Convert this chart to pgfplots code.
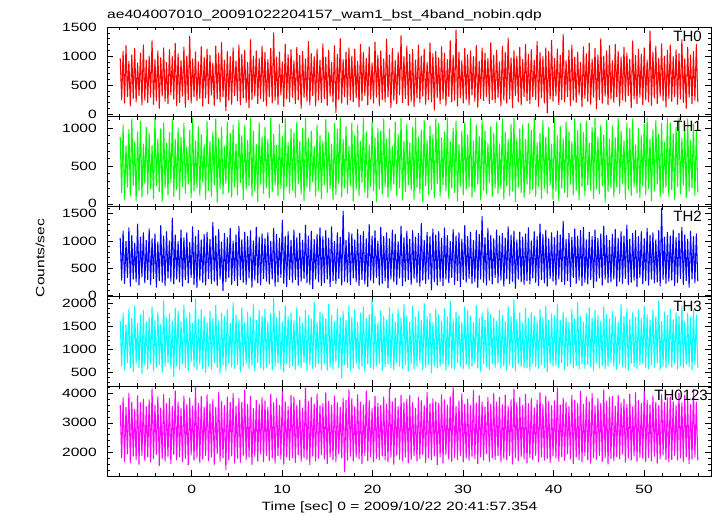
\documentclass[border=0pt]{standalone}
\usepackage{fontspec}
\setmainfont{Liberation Sans}[FakeStretch=1.3]
\newfontfamily\labfont{Liberation Sans}
\usepackage{pgfplots}
\usepackage{pgfplotstable}
\pgfplotsset{compat=1.18}
\definecolor{cR}{rgb}{1,0,0}
\definecolor{cG}{rgb}{0,1,0}
\definecolor{cB}{rgb}{0,0,1}
\definecolor{cC}{rgb}{0,1,1}
\definecolor{cM}{rgb}{1,0,1}
\newcommand\tf{\fontsize{12bp}{14bp}\selectfont}
\newcommand\lf{\labfont\fontsize{15bp}{17bp}\selectfont}
\pgfplotstableread{
a b c d e
960 880 1050 1620 3600
250 150 280 650 1820
1080 1040 1180 1790 3850
190 60 220 560 1700
1180 760 990 1540 3520
300 220 330 720 1950
910 980 1240 1880 4000
140 110 170 600 1650
1020 1120 1100 1680 3700
270 250 300 530 1880
1130 820 960 1950 3450
210 40 250 690 1760
880 950 1310 1580 3920
320 180 190 610 1600
1050 1090 1070 1760 3680
160 90 340 470 1900
1190 790 1150 1850 3800
240 270 230 660 1720
930 1010 1010 1600 3550
200 130 290 580 1850
1000 930 1220 1710 3780
290 200 200 700 1680
1260 770 1040 1930 4150
170 70 310 540 1800
940 1130 1130 1630 3600
230 240 150 620 1930
1090 860 980 1820 3880
100 160 270 680 1560
970 990 1280 1550 3500
310 30 240 500 1790
1140 1070 1090 2060 3960
220 210 180 640 1710
890 800 1170 1690 3650
180 120 320 720 1870
1110 940 1000 1780 3820
330 280 260 590 1620
990 1110 1420 1620 3560
260 100 210 420 1940
1220 850 1110 1900 4080
150 190 300 650 1750
1040 1000 990 1840 3700
200 50 250 570 1860
920 880 1200 1600 3480
310 230 170 690 1690
1150 1060 1060 1970 3910
120 140 290 610 1800
1000 750 1150 1700 3620
250 260 230 540 1580
1340 970 970 1800 3840
190 80 330 730 1920
950 1130 1260 1580 3570
300 170 200 620 1740
1070 830 1080 2100 4200
230 210 140 560 1830
900 1020 1190 1660 3660
270 110 280 680 1650
1160 910 1020 1870 3890
140 290 240 590 1780
980 780 1120 1720 3530
280 60 190 500 1900
1120 1090 1160 1590 3950
180 180 310 640 1720
1010 820 1030 1830 3640
330 100 220 580 1850
880 950 1340 1690 3790
150 250 260 720 1600
1170 1120 1090 1960 3510
260 20 180 610 1960
1050 870 1210 1620 4020
210 200 300 480 1700
1230 1010 980 1790 3720
300 130 90 670 1820
930 760 1140 1730 3580
60 270 250 550 1430
1080 1080 1060 1880 3870
240 150 330 700 1750
990 930 1230 1570 3690
170 90 200 620 1880
1140 1040 1000 2020 3990
320 220 270 590 1640
910 790 1110 1750 3560
230 120 180 680 1800
1190 1100 1270 1650 3830
160 280 290 520 1670
1030 900 1020 1910 3700
280 60 240 640 1910
1100 1030 1160 1590 4100
200 190 200 700 1760
890 840 1080 1820 3620
110 240 320 590 1840
1280 1130 1190 1700 3900
250 100 150 650 1590
1000 960 1000 1990 3480
310 170 280 530 1870
1090 780 1250 1640 3760
180 30 230 720 1720
960 1070 1070 1860 3630
270 260 190 600 1950
1170 880 1130 1730 3850
220 140 310 560 1690
1060 1010 1040 1880 3740
140 210 260 620 1900
940 850 1150 1610 3520
300 80 210 690 1730
1130 1130 990 1780 3960
190 160 300 560 1810
1400 920 1230 2120 3680
240 250 170 640 1640
980 770 1120 1690 3820
170 110 250 710 1890
1070 1050 1050 1840 3590
330 200 330 580 1770
900 890 1380 1600 4050
130 50 220 520 1610
1200 1120 1080 1950 3710
260 230 160 690 1850
1020 810 1170 1720 3550
210 140 290 610 1740
1110 990 1010 1800 3930
290 180 240 650 1820
920 940 1200 1630 3880
180 90 290 570 1660
1150 1080 1060 1920 3610
250 270 190 660 1920
1010 820 1140 1710 3770
100 130 260 600 1700
1080 1000 1010 1580 3490
290 40 310 720 1830
950 1130 1290 1850 4180
220 220 230 540 1760
1250 870 1090 1740 3720
160 160 200 680 1590
1040 960 1180 1660 3860
320 290 120 590 1880
990 760 1030 2040 3640
140 100 300 630 1710
1120 1040 1120 1590 3980
240 180 250 700 1800
930 900 1240 1810 3570
200 70 180 560 1930
1210 830 1080 1780 3650
270 250 230 690 1780
980 1110 1190 1670 4010
150 150 300 550 1620
1100 940 1050 1990 3730
310 200 160 620 1860
890 790 1260 1740 3590
210 60 270 580 1750
1180 1060 990 1610 3910
30 120 220 730 1690
1030 980 1150 1890 3680
250 270 310 600 1950
1300 1130 1070 1700 3520
190 90 190 380 1810
940 850 1550 1830 3840
300 210 260 670 1350
1070 1020 1010 1640 3760
170 140 240 610 1740
1140 760 1160 1960 4120
240 240 200 540 1870
1000 1070 1130 1700 3820
210 40 320 600 1710
1120 900 1020 1860 3540
280 190 250 700 1840
910 1040 1210 1600 3950
120 110 180 570 1780
1200 820 1100 1800 3700
230 280 290 640 1620
1060 1130 1170 1930 3600
320 150 210 520 1900
960 950 1040 1680 4070
160 80 160 690 1730
1160 780 1300 1760 3750
260 230 280 610 1860
880 1090 1090 2080 3480
190 170 230 580 1690
1240 870 1190 1720 3890
290 30 330 650 1800
1010 1000 1000 1590 3660
150 200 190 700 1760
1090 960 1250 1840 3590
250 130 220 550 1880
950 1120 1080 1720 3870
210 230 270 630 1750
1290 850 1150 1650 3640
300 90 140 690 1690
1020 990 1040 1910 4160
110 180 300 600 1830
1130 760 1200 1780 3710
240 260 250 560 1600
920 1080 1120 1600 3830
180 110 200 720 1910
1070 920 990 1870 3560
330 210 320 640 1770
1350 1130 1270 1690 3940
200 50 180 590 1720
990 830 1060 1990 3690
270 160 260 670 1850
1170 1050 1180 1740 3800
150 250 290 530 1650
1030 800 1030 1610 3920
220 180 200 690 1760
1110 1010 1190 1950 3690
130 60 310 580 1890
930 1130 1070 1700 3500
280 220 240 640 1710
1190 880 1140 1830 3860
200 140 170 710 1800
1000 970 1320 1640 3750
310 30 280 570 1940
1120 1100 1010 2010 3580
170 240 220 620 1660
890 840 1160 1720 4030
250 120 300 680 1820
1220 1030 1080 1790 3640
210 190 100 500 1750
1040 910 1220 1590 3810
70 80 250 650 1880
1080 1120 1110 1880 3710
290 270 190 600 1590
970 1060 1170 1760 3660
180 100 260 630 1850
1160 870 1050 1620 3950
260 250 180 700 1640
1050 950 1240 1890 3780
150 170 300 550 1920
940 1130 1100 1710 3600
300 70 230 660 1770
1260 820 990 2050 3880
210 210 330 610 1700
1010 1000 1210 1660 4240
240 150 200 580 1830
1450 1090 1090 1820 3550
140 40 270 720 1760
1070 780 1150 1740 3740
280 230 160 640 1900
920 960 1030 1600 3980
190 120 290 590 1680
1130 1070 1280 1930 3620
250 190 240 670 1810
1020 910 1080 1860 3800
160 220 310 580 1730
1090 1130 1160 1730 3580
330 90 220 640 1870
990 830 1010 1590 4090
220 160 250 710 1790
1180 1040 1190 1960 3670
120 260 150 600 1620
910 890 1120 1680 3920
270 50 300 530 1850
1140 1110 1450 1800 3710
230 180 240 690 1740
1050 960 1060 1640 3530
300 130 190 620 1960
960 800 1230 1900 3860
180 280 280 570 1700
1230 1020 1100 1770 3640
250 100 210 700 1820
1010 930 1040 1690 3990
200 210 330 610 1760
1100 1080 1200 1620 3700
290 140 230 720 1900
900 790 1090 1850 3860
140 200 280 590 1680
1170 1120 1140 1750 3610
240 60 170 640 1800
1060 940 1050 1610 3940
190 240 310 560 1750
1310 850 1260 1940 3570
260 110 220 680 1890
970 1050 1110 1720 3780
110 170 260 610 1610
1090 1130 1180 2090 4140
320 30 130 540 1830
1000 870 1020 1660 3690
210 220 300 700 1720
1150 990 1160 1800 3850
160 150 250 630 1870
940 1040 1070 1580 3590
300 80 200 600 1780
1200 850 1130 1900 3960
230 260 270 610 1640
1030 1060 1240 1680 3650
180 130 210 550 1820
1110 970 1000 1810 3820
300 190 320 700 1760
930 1130 1170 1730 3510
250 100 240 630 1910
1250 810 1080 1620 3770
130 230 180 590 1690
1060 930 1310 1870 4010
280 70 290 670 1850
990 1100 1120 1700 3630
190 200 230 610 1740
1140 880 1200 1950 3900
20 140 170 520 1800
1080 1010 1040 1640 3720
260 250 310 690 1660
1270 790 1150 1780 3580
220 60 260 640 1880
960 1130 1060 1740 3740
310 170 190 660 1810
1120 900 1180 1990 4180
160 40 300 600 1700
1010 1020 1110 1630 3600
250 210 250 720 1860
1370 860 1360 1820 3840
210 150 200 570 1730
920 1080 1030 1700 3690
300 90 270 640 1950
1100 950 1140 1590 3550
150 260 160 690 1780
1190 820 1070 1880 3930
240 120 330 600 1620
980 1120 1220 1670 3760
200 180 220 650 1840
1070 970 1090 2030 3650
330 50 280 580 1750
890 1060 1190 1720 4060
130 230 180 700 1690
1160 940 1250 1600 3620
270 110 240 590 1890
1040 1090 1020 1790 3880
220 250 210 680 1750
1220 800 1160 1910 3710
170 180 290 620 1640
950 1010 1080 1690 3990
290 70 140 540 1820
1130 1130 1200 1850 3570
90 200 260 710 1760
1020 880 1050 1740 3820
250 130 320 600 1900
1300 1040 1130 1620 3660
190 240 190 660 1700
1000 910 1270 1930 4110
310 20 300 580 1830
1090 1110 1100 1760 3730
160 160 230 640 1610
1180 850 1010 1660 3860
260 210 250 720 1790
920 1030 1120 1830 3890
200 90 300 640 1720
1200 870 1210 1710 3560
300 220 170 570 1860
1080 1130 1050 1600 3940
140 140 260 690 1780
980 960 1170 1980 3680
240 270 220 620 1950
1150 830 1090 1720 3800
220 60 310 600 1670
1050 1070 1290 1890 3630
320 190 200 550 1810
940 990 1030 1650 3970
110 110 240 700 1740
1260 1120 1140 1800 3540
260 230 280 630 1880
1010 780 1190 1700 4020
180 150 160 590 1700
1120 1000 1080 1870 3750
290 80 330 660 1840
1030 900 1170 1690 3650
160 240 210 700 1800
1140 1050 1040 1940 4050
250 120 270 610 1690
930 1130 1230 1760 3770
210 200 190 580 1830
1430 850 1100 1640 3600
150 40 300 670 1720
1070 980 1150 1860 3910
280 170 230 620 1870
1170 1100 1020 1710 3700
180 260 250 720 1640
960 920 1190 2060 3580
310 90 170 560 1790
1210 1060 1600 1610 3960
230 140 290 640 1910
1000 810 1070 1820 3690
120 220 220 600 1760
1100 1130 1160 1740 3840
270 100 260 680 1680
1190 1070 1090 1880 3870
220 190 280 620 1760
990 930 1200 1650 3720
300 60 180 700 1900
1110 1010 1060 1800 3590
170 230 240 580 1740
1040 1130 1140 1720 4000
260 130 310 650 1810
1280 870 1250 1940 3680
200 250 200 600 1700
950 990 1110 1600 3930
100 80 270 690 1850
1150 1120 1030 1790 3760
290 170 150 630 1620
1020 840 1180 1700 3620
180 210 300 560 1780
1080 1050 1080 1860 4130
240 110 230 670 1840
1200 960 1130 1750 3700
210 150 260 610 1730
}\lc
\pgfplotsset{
  panel/.style={
    scale only axis, width=604bp, height=89.8bp,
    anchor=south west,
    xmin=-9.36, xmax=57.4,
    xtick={-10,0,...,60}, minor x tick num=4,
    minor y tick num=4,
    tick align=inside,
    major tick length=6bp, minor tick length=3bp,
    every tick/.style={black, line width=0.6bp},
    axis line style={black, line width=0.8bp},
    tick label style={font=\tf},
    yticklabel style={anchor=east, inner sep=0pt, xshift=-10bp},
    xticklabel style={anchor=north, inner sep=0pt, yshift=-9bp},
    /pgf/number format/1000 sep={},
    /pgf/number format/assume math mode=true,
  },
  lc/.style={line width=1.05bp, line join=round},
}
\begin{document}
\begin{tikzpicture}
\useasboundingbox (0,0) rectangle (717bp,516bp);
\begin{axis}[panel, at={(107bp,399.2bp)}, xticklabels={}, ymin=-46, ymax=1500, ytick={-500,0,...,2000}]
\addplot[cR, lc] table[x expr=\coordindex*0.16-7.9, y=a] {\lc};
\end{axis}
\begin{axis}[panel, at={(107bp,309.4bp)}, xticklabels={}, ymin=-36, ymax=1149, ytick={-500,0,...,1500}]
\addplot[cG, lc] table[x expr=\coordindex*0.16-7.9, y=b] {\lc};
\end{axis}
\begin{axis}[panel, at={(107bp,219.6bp)}, xticklabels={}, ymin=-18, ymax=1630, ytick={-500,0,...,2000}]
\addplot[cB, lc] table[x expr=\coordindex*0.16-7.9, y=c] {\lc};
\end{axis}
\begin{axis}[panel, at={(107bp,129.8bp)}, xticklabels={}, ymin=206, ymax=2157, ytick={0,500,...,2500}]
\addplot[cC, lc] table[x expr=\coordindex*0.16-7.9, y=d] {\lc};
\end{axis}
\begin{axis}[panel, at={(107bp,40bp)}, ymin=1206, ymax=4238, ytick={1000,2000,...,5000}]
\addplot[cM, lc] table[x expr=\coordindex*0.16-7.9, y=e] {\lc};
\end{axis}
\node[font=\tf, anchor=base west, inner sep=0pt] at (107bp,497bp) {ae404007010\_20091022204157\_wam1\_bst\_4band\_nobin.qdp};
\node[font=\tf, rotate=90, inner sep=0pt] at (40bp,258bp) {Counts/sec};
\node[font=\tf, anchor=base, inner sep=0pt] at (399.5bp,6bp) {Time [sec] 0 = 2009/10/22 20:41:57.354};
\node[font=\lf, anchor=east, inner sep=0pt] at (702bp,479.3bp) {TH0};
\node[font=\lf, anchor=east, inner sep=0pt] at (702bp,389.5bp) {TH1};
\node[font=\lf, anchor=east, inner sep=0pt] at (702bp,299.7bp) {TH2};
\node[font=\lf, anchor=east, inner sep=0pt] at (702bp,209.9bp) {TH3};
\node[font=\lf, anchor=east, inner sep=0pt] at (708bp,120.3bp) {TH0123};
\end{tikzpicture}
\end{document}
